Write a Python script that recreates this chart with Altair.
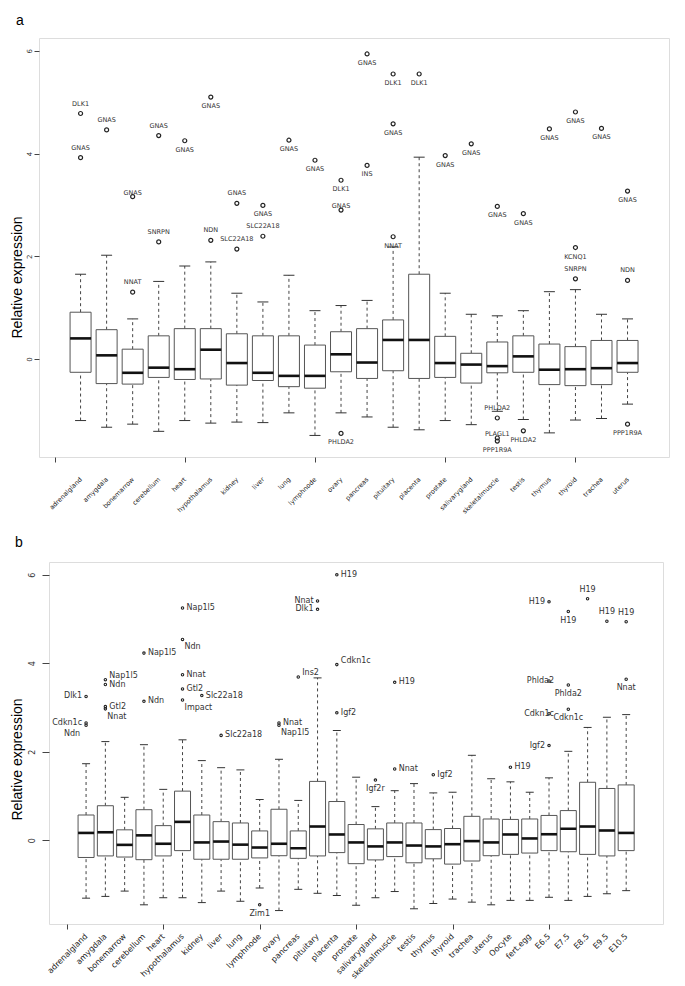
import json
import altair as alt
import pandas as pd

# ---------------- panel a (human tissues) ----------------
A_CATS = ["adrenalgland", "amygdala", "bonemarrow", "cerebellum", "heart", "hypothalamus",
          "kidney", "liver", "lung", "lymphnode", "ovary", "pancreas", "pituitary", "placenta",
          "prostate", "salivarygland", "skeletalmuscle", "testis", "thymus", "thyroid",
          "trachea", "uterus"]
A_LOWER = [-1.20, -1.33, -1.27, -1.41, -1.20, -1.25, -1.23, -1.24, -1.05, -1.49, -1.05,
           -1.13, -1.33, -1.38, -1.20, -1.28, -1.02, -1.18, -1.44, -1.19, -1.16, -0.88]
A_Q1 = [-0.26, -0.48, -0.49, -0.36, -0.40, -0.39, -0.51, -0.42, -0.54, -0.57, -0.25,
        -0.38, -0.23, -0.38, -0.36, -0.47, -0.27, -0.26, -0.50, -0.52, -0.50, -0.26]
A_MED = [0.40, 0.07, -0.27, -0.17, -0.20, 0.18, -0.08, -0.27, -0.33, -0.33, 0.09,
         -0.07, 0.37, 0.37, -0.08, -0.11, -0.14, 0.05, -0.21, -0.20, -0.18, -0.08]
A_Q3 = [0.91, 0.57, 0.19, 0.45, 0.59, 0.59, 0.49, 0.45, 0.45, 0.27, 0.53,
        0.59, 0.76, 1.65, 0.44, 0.11, 0.33, 0.45, 0.29, 0.24, 0.36, 0.36]
A_UPPER = [1.65, 2.02, 0.78, 1.51, 1.81, 1.89, 1.28, 1.11, 1.63, 0.94, 1.04,
           1.14, 2.18, 3.93, 1.28, 0.87, 0.84, 0.94, 1.31, 1.35, 0.87, 0.78]

A_OUT_CAT = ["adrenalgland", "adrenalgland", "amygdala", "bonemarrow", "bonemarrow",
             "cerebellum", "cerebellum", "heart", "hypothalamus", "hypothalamus",
             "kidney", "kidney", "liver", "liver", "lung", "lymphnode",
             "ovary", "ovary", "ovary", "pancreas", "pancreas",
             "pituitary", "pituitary", "pituitary", "placenta", "prostate", "salivarygland",
             "skeletalmuscle", "skeletalmuscle", "skeletalmuscle", "skeletalmuscle",
             "testis", "testis", "thymus", "thyroid", "thyroid", "thyroid", "trachea",
             "uterus", "uterus", "uterus"]
A_OUT_VAL = [4.78, 3.92, 4.46, 3.16, 1.30,
             4.35, 2.28, 4.25, 5.10, 2.31,
             3.03, 2.14, 2.99, 2.39, 4.26, 3.87,
             3.48, 2.90, -1.45, 5.94, 3.77,
             5.55, 4.58, 2.38, 5.55, 3.96, 4.19,
             2.97, -1.15, -1.54, -1.60,
             2.83, -1.40, 4.48, 4.81, 2.17, 1.56, 4.49,
             3.27, 1.53, -1.27]
A_OUT_GENE = ["DLK1", "GNAS", "GNAS", "GNAS", "NNAT",
              "GNAS", "SNRPN", "GNAS", "GNAS", "NDN",
              "GNAS", "SLC22A18", "GNAS", "SLC22A18", "GNAS", "GNAS",
              "DLK1", "GNAS", "PHLDA2", "GNAS", "INS",
              "DLK1", "GNAS", "NNAT", "DLK1", "GNAS", "GNAS",
              "GNAS", "PHLDA2", "PLAGL1", "PPP1R9A",
              "GNAS", "PHLDA2", "GNAS", "GNAS", "KCNQ1", "SNRPN", "GNAS",
              "GNAS", "NDN", "PPP1R9A"]
A_OUT_PLACE = ["t", "t", "t", "o", "t",
               "t", "t", "b", "b", "t",
               "t", "t", "b", "t", "b", "b",
               "b", "o", "b", "b", "b",
               "b", "b", "b", "b", "b", "b",
               "b", "t", "o", "b",
               "b", "b", "b", "b", "b", "t", "b",
               "b", "t", "b"]

# ---------------- panel b (mouse tissues / embryo) ----------------
B_CATS = ["adrenalgland", "amygdala", "bonemarrow", "cerebellum", "heart", "hypothalamus",
          "kidney", "liver", "lung", "lymphnode", "ovary", "pancreas", "pituitary", "placenta",
          "prostate", "salivarygland", "skeletalmuscle", "testis", "thymus", "thyroid",
          "trachea", "uterus", "Oocyte", "fert.egg", "E6.5", "E7.5", "E8.5", "E9.5", "E10.5"]
B_LOWER = [-1.31, -1.27, -1.15, -1.46, -1.30, -1.30, -1.41, -1.15, -1.38, -1.08, -1.59,
           -1.11, -1.20, -1.25, -1.47, -1.30, -1.16, -1.55, -1.43, -1.33, -1.40, -1.46,
           -1.36, -1.36, -1.29, -1.36, -1.27, -1.21, -1.14]
B_Q1 = [-0.39, -0.355, -0.38, -0.44, -0.355, -0.235, -0.43, -0.43, -0.43, -0.40, -0.35,
        -0.41, -0.355, -0.28, -0.53, -0.445, -0.37, -0.51, -0.42, -0.54, -0.47, -0.35,
        -0.32, -0.29, -0.235, -0.26, -0.32, -0.355, -0.235]
B_MED = [0.165, 0.18, -0.105, 0.11, -0.08, 0.415, -0.05, -0.03, -0.10, -0.165, -0.08,
         -0.18, 0.31, 0.13, -0.05, -0.14, -0.05, -0.12, -0.14, -0.09, -0.02, -0.05,
         0.13, 0.04, 0.135, 0.26, 0.31, 0.22, 0.165]
B_Q3 = [0.57, 0.78, 0.235, 0.69, 0.33, 1.11, 0.57, 0.42, 0.39, 0.21, 0.70,
        0.21, 1.33, 0.875, 0.355, 0.257, 0.39, 0.39, 0.24, 0.265, 0.54, 0.48,
        0.47, 0.48, 0.56, 0.67, 1.31, 1.17, 1.25]
B_UPPER = [1.73, 2.23, 0.97, 2.16, 1.15, 2.27, 1.80, 1.64, 1.59, 0.92, 1.83,
           0.90, 3.67, 2.48, 1.425, 0.76, 1.12, 1.28, 1.07, 1.085, 1.92, 1.39,
           1.32, 1.085, 1.41, 2.01, 2.55, 2.78, 2.84]

B_OUT_CAT = ["adrenalgland", "adrenalgland", "adrenalgland",
             "amygdala", "amygdala", "amygdala", "amygdala",
             "cerebellum", "cerebellum",
             "hypothalamus", "hypothalamus", "hypothalamus", "hypothalamus", "hypothalamus",
             "kidney", "liver", "lymphnode", "ovary", "ovary", "pancreas",
             "pituitary", "pituitary", "placenta", "placenta", "placenta",
             "salivarygland", "skeletalmuscle", "skeletalmuscle", "thymus", "Oocyte",
             "E6.5", "E6.5", "E6.5", "E6.5", "E7.5", "E7.5", "E7.5",
             "E8.5", "E9.5", "E10.5", "E10.5"]
B_OUT_VAL = [3.25, 2.65, 2.60,
             3.63, 3.52, 3.02, 2.97,
             4.23, 3.14,
             5.25, 4.54, 3.74, 3.42, 3.17,
             3.27, 2.37, -1.46, 2.65, 2.60, 3.69,
             5.41, 5.22, 6.00, 3.97, 2.88,
             1.36, 3.57, 1.61, 1.48, 1.65,
             5.39, 3.60, 2.86, 2.14, 5.17, 3.51, 2.96,
             5.46, 4.95, 4.94, 3.64]
B_OUT_GENE = ["Dlk1", "Cdkn1c", "Ndn",
              "Nap1l5", "Ndn", "Gtl2", "Nnat",
              "Nap1l5", "Ndn",
              "Nap1l5", "Ndn", "Nnat", "Gtl2", "Impact",
              "Slc22a18", "Slc22a18", "Zim1", "Nnat", "Nap1l5", "Ins2",
              "Nnat", "Dlk1", "H19", "Cdkn1c", "Igf2",
              "Igf2r", "H19", "Nnat", "Igf2", "H19",
              "H19", "Phlda2", "Cdkn1c", "Igf2", "H19", "Phlda2", "Cdkn1c",
              "H19", "H19", "H19", "Nnat"]
B_OUT_PLACE = ["l", "l", "lb",
               "tr", "r", "r", "br",
               "r", "r",
               "r", "br", "r", "r", "br",
               "r", "r", "b", "r", "br", "tr",
               "l", "l", "r", "tr", "r",
               "b", "r", "r", "r", "r",
               "l", "lo", "lo", "l", "b", "b", "b",
               "t", "t", "t", "b"]

A_PLACES = {"t": (0, -10, "center"), "b": (0, 9, "center"), "o": (0, -4, "center")}
B_PLACES = {"r": (4, 0, "left"), "l": (-4, 0, "right"), "t": (0, -9, "center"),
            "b": (0, 9, "center"), "br": (2, 8, "left"), "tr": (4, -4, "left"),
            "lb": (-6, 9, "right"), "lo": (5, 0, "right")}

LABEL_FONT = "DejaVu Sans"


def panel(letter, cats, lower, q1, med, q3, upper, out_cat, out_val, out_gene, out_place,
          places, *, width, height, xdom, ydom, box_w, cap_w, pt_size, pt_sw,
          lab_size, xlab_size, xlab_pad, ylab_size, ylab_pad, ytick, title_pad,
          title_y, title_dx, title_offset):
    n = len(cats)
    stats = pd.DataFrame({"pos": list(range(1, n + 1)), "name": cats, "lower": lower,
                          "q1": q1, "med": med, "q3": q3, "upper": upper})
    outs = pd.DataFrame({"pos": [cats.index(c) + 1 for c in out_cat], "value": out_val,
                         "gene": out_gene, "place": out_place})

    names_js = json.dumps([""] + cats)
    xaxis = alt.Axis(values=list(range(0, n + 1)), labelExpr=f"{names_js}[datum.value]",
                     labelAngle=-45, labelAlign="right", labelBaseline="middle",
                     labelPadding=xlab_pad, labelFont=LABEL_FONT, labelFontSize=xlab_size,
                     labelColor="#222", labelOverlap=False, labelBound=False,
                     labelFlush=False, tickSize=5, tickColor="#444",
                     tickOpacity={"condition": {"test": "datum.value % 5 === 0", "value": 1},
                                  "value": 0},
                     domain=False, grid=False)
    yaxis = alt.Axis(values=[0, 2, 4, 6], labelAngle=-90, labelAlign="center",
                     labelBaseline="bottom", labelPadding=ylab_pad, labelFont=LABEL_FONT,
                     labelFontSize=ylab_size, labelColor="#333", tickSize=ytick,
                     tickColor="#444", domain=False, grid=False,
                     titleFont="Liberation Sans", titleFontSize=14, titleFontWeight="normal",
                     titleColor="#000", titlePadding=title_pad, titleY=title_y)
    xs = alt.Scale(domain=xdom, nice=False, zero=False)
    ys = alt.Scale(domain=ydom, nice=False, zero=False)
    X = alt.X("pos:Q", scale=xs, axis=xaxis, title=None)

    def Y(f):
        return alt.Y(f"{f}:Q", scale=ys, axis=yaxis, title="Relative expression")

    base = alt.Chart(stats)
    wu = base.mark_rule(color="#444", strokeDash=[3, 3], strokeWidth=1).encode(
        x=X, y=Y("q3"), y2="upper")
    wl = base.mark_rule(color="#444", strokeDash=[3, 3], strokeWidth=1).encode(
        x=X, y=Y("lower"), y2="q1")
    cu = base.mark_tick(orient="horizontal", size=cap_w, thickness=1, color="#333",
                        opacity=1).encode(x=X, y=Y("upper"))
    cl = base.mark_tick(orient="horizontal", size=cap_w, thickness=1, color="#333",
                        opacity=1).encode(x=X, y=Y("lower"))
    box = base.mark_bar(size=box_w, fill="white", stroke="#555", strokeWidth=1).encode(
        x=X, y=Y("q1"), y2="q3")
    md = base.mark_tick(orient="horizontal", size=box_w, thickness=2.6, color="#111",
                        opacity=1).encode(x=X, y=Y("med"))
    pts = alt.Chart(outs).mark_point(shape="circle", size=pt_size, strokeWidth=pt_sw,
                                     color="#222", filled=False, opacity=1).encode(
        x=X, y=Y("value"))
    layers = [wu, wl, cu, cl, box, md, pts]
    for code, (dx, dy, align) in places.items():
        layers.append(
            alt.Chart(outs).transform_filter(alt.datum.place == code).mark_text(
                dx=dx, dy=dy, align=align, baseline="middle", font=LABEL_FONT,
                fontSize=lab_size, color="#333").encode(x=X, y=Y("value"), text="gene:N"))
    return alt.layer(*layers).properties(
        width=width, height=height,
        title=alt.TitleParams(letter, anchor="start", frame="bounds", font="Liberation Sans",
                              fontSize=14, fontWeight="normal", color="#000", dx=title_dx,
                              offset=title_offset))


def spacer():
    # an empty 1x1 cell so that each panel is placed by its own axis width
    return alt.Chart(pd.DataFrame({"v": [0]})).mark_rule(
        strokeOpacity=0, strokeWidth=0).encode(
        x=alt.value(0), y=alt.value(0), y2=alt.value(0)
    ).properties(width=1, height=1, view=alt.ViewBackground(strokeOpacity=0))


pa = panel("a", A_CATS, A_LOWER, A_Q1, A_MED, A_Q3, A_UPPER,
           A_OUT_CAT, A_OUT_VAL, A_OUT_GENE, A_OUT_PLACE, A_PLACES,
           width=630, height=419, xdom=[-0.404, 23.40], ydom=[-1.91, 6.251],
           box_w=21, cap_w=11, pt_size=16, pt_sw=1.2, lab_size=6.5, xlab_size=6.5,
           xlab_pad=16, ylab_size=7, ylab_pad=2, ytick=5, title_pad=1, title_y=239,
           title_dx=6, title_offset=10)

pb = panel("b", B_CATS, B_LOWER, B_Q1, B_MED, B_Q3, B_UPPER,
           B_OUT_CAT, B_OUT_VAL, B_OUT_GENE, B_OUT_PLACE, B_PLACES,
           width=614, height=362, xdom=[-0.663, 30.65], ydom=[-1.894, 6.29],
           box_w=16, cap_w=8, pt_size=6, pt_sw=1.1, lab_size=8, xlab_size=8,
           xlab_pad=6, ylab_size=8, ylab_pad=6, ytick=7, title_pad=4, title_y=197,
           title_dx=5, title_offset=12)

row_a = alt.hconcat(spacer(), pa, spacing=0)
row_b = alt.hconcat(spacer(), pb, spacing=0)

chart = alt.vconcat(row_a, row_b, spacing=19).properties(
    padding={"left": 0, "top": 5, "right": 5, "bottom": 5}
).configure_view(stroke="#555", strokeWidth=1).configure(background="white")

chart.save("out.html", embed_options={"renderer": "svg", "actions": False})
